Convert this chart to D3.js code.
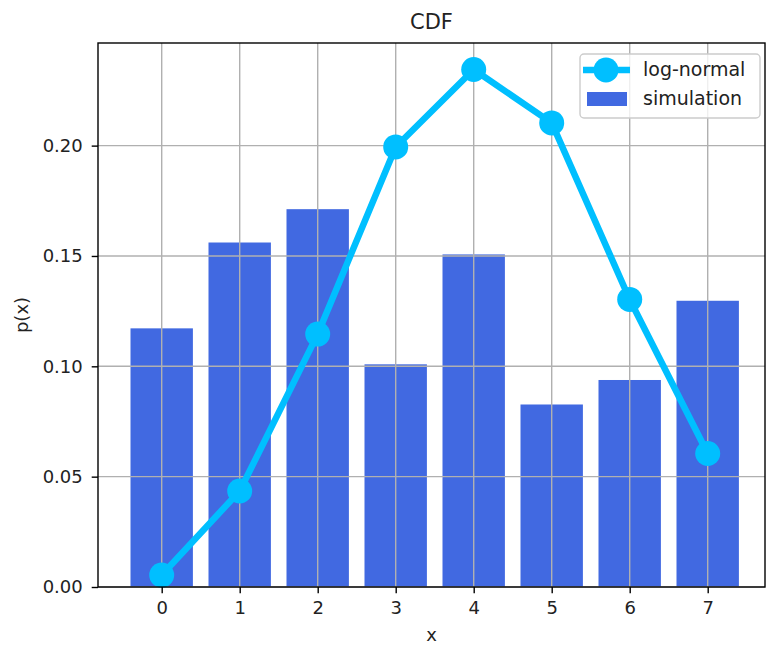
<!DOCTYPE html>
<html>
<head>
<meta charset="utf-8">
<script src="https://cdn.jsdelivr.net/npm/d3@7"></script>
<style>
  html, body { margin: 0; padding: 0; background: #fff; }
  svg { display: block; font-family: "DejaVu Sans", sans-serif; }
</style>
</head>
<body>
<svg id="chart" width="766" height="647"></svg>
<script>
// Outcomes on the x axis
const categories = [0, 1, 2, 3, 4, 5, 6, 7];
// Simulated probabilities (bars)
const simulation = [0.1172, 0.1561, 0.1712, 0.1009, 0.1507, 0.0827, 0.0938, 0.1297];
// Log-normal model probabilities (line with markers)
const logNormal = [0.0054, 0.0435, 0.1146, 0.1994, 0.2345, 0.2103, 0.1303, 0.0605];
// Axis tick labels
const yTicks = [0.00, 0.05, 0.10, 0.15, 0.20];
const xTicks = categories;

const svg = d3.select("#chart");
const plot = { left: 98, right: 765, top: 43, bottom: 587 };

const x = d3.scaleLinear().domain([0, 7]).range([161.7, 707.7]);
const y = d3.scaleLinear().domain([0, 0.2465]).range([plot.bottom, plot.top]);
const barW = x(0.8) - x(0);

const barColor = "#4169E1";
const lineColor = "#00BFFF";
const gridColor = "#b0b0b0";

// Bars
svg.append("g").selectAll("rect").data(categories).join("rect")
  .attr("x", (d) => x(d) - barW / 2)
  .attr("width", barW)
  .attr("y", (d, i) => y(simulation[i]))
  .attr("height", (d, i) => y(0) - y(simulation[i]))
  .attr("fill", barColor);

// Grid lines
const grid = svg.append("g").attr("stroke", gridColor).attr("stroke-width", 1.4);
grid.selectAll("line.v").data(xTicks).join("line").attr("class", "v")
  .attr("x1", (d) => x(d)).attr("x2", (d) => x(d))
  .attr("y1", plot.top).attr("y2", plot.bottom);
grid.selectAll("line.h").data(yTicks).join("line").attr("class", "h")
  .attr("x1", plot.left).attr("x2", plot.right)
  .attr("y1", (d) => y(d)).attr("y2", (d) => y(d));

// Log-normal line and markers
const line = d3.line().x((d, i) => x(categories[i])).y((d) => y(d));
svg.append("path").datum(logNormal)
  .attr("d", line)
  .attr("fill", "none")
  .attr("stroke", lineColor)
  .attr("stroke-width", 6.5)
  .attr("stroke-linejoin", "round");
svg.append("g").selectAll("circle").data(logNormal).join("circle")
  .attr("cx", (d, i) => x(categories[i]))
  .attr("cy", (d) => y(d))
  .attr("r", 12.5)
  .attr("fill", lineColor);

// Axes
const xAxis = d3.axisBottom(x).tickValues(xTicks).tickFormat(d3.format("d"))
  .tickSizeOuter(0).tickSizeInner(6.3).tickPadding(8);
const yAxis = d3.axisLeft(y).tickValues(yTicks).tickFormat(d3.format(".2f"))
  .tickSizeOuter(0).tickSizeInner(6.3).tickPadding(9);

const gx = svg.append("g").attr("transform", `translate(0,${plot.bottom})`).call(xAxis);
const gy = svg.append("g").attr("transform", `translate(${plot.left},0)`).call(yAxis);
[gx, gy].forEach((g) => {
  g.select(".domain").remove();
  g.selectAll(".tick line").attr("stroke", "#000").attr("stroke-width", 1.4);
  g.selectAll(".tick text").attr("fill", "#222").attr("font-size", 18)
    .attr("font-family", "DejaVu Sans, sans-serif");
});

// Frame
svg.append("rect")
  .attr("x", plot.left).attr("y", plot.top)
  .attr("width", plot.right - plot.left).attr("height", plot.bottom - plot.top)
  .attr("fill", "none").attr("stroke", "#000").attr("stroke-width", 1.4);

// Titles
const cx = (plot.left + plot.right) / 2;
svg.append("text").attr("x", cx).attr("y", 29).attr("text-anchor", "middle")
  .attr("font-size", 21).attr("fill", "#222").text("CDF");
svg.append("text").attr("x", cx).attr("y", 641).attr("text-anchor", "middle")
  .attr("font-size", 18).attr("fill", "#222").text("x");
svg.append("text")
  .attr("transform", `translate(28,${(plot.top + plot.bottom) / 2}) rotate(-90)`)
  .attr("text-anchor", "middle")
  .attr("font-size", 18).attr("fill", "#222").text("p(x)");

// Legend
const lg = svg.append("g");
lg.append("rect").attr("x", 580).attr("y", 54).attr("width", 180).attr("height", 64)
  .attr("rx", 4).attr("fill", "#fff").attr("fill-opacity", 0.8)
  .attr("stroke", "#ccc").attr("stroke-width", 1.4);
lg.append("line").attr("x1", 583).attr("x2", 630).attr("y1", 70).attr("y2", 70)
  .attr("stroke", lineColor).attr("stroke-width", 6.5);
lg.append("circle").attr("cx", 606).attr("cy", 70).attr("r", 12.5).attr("fill", lineColor);
lg.append("rect").attr("x", 587).attr("y", 92).attr("width", 40).attr("height", 14)
  .attr("fill", barColor);
lg.append("text").attr("x", 643).attr("y", 76).attr("font-size", 19).attr("fill", "#222")
  .text("log-normal");
lg.append("text").attr("x", 643).attr("y", 105).attr("font-size", 19).attr("fill", "#222")
  .text("simulation");
</script>
</body>
</html>
